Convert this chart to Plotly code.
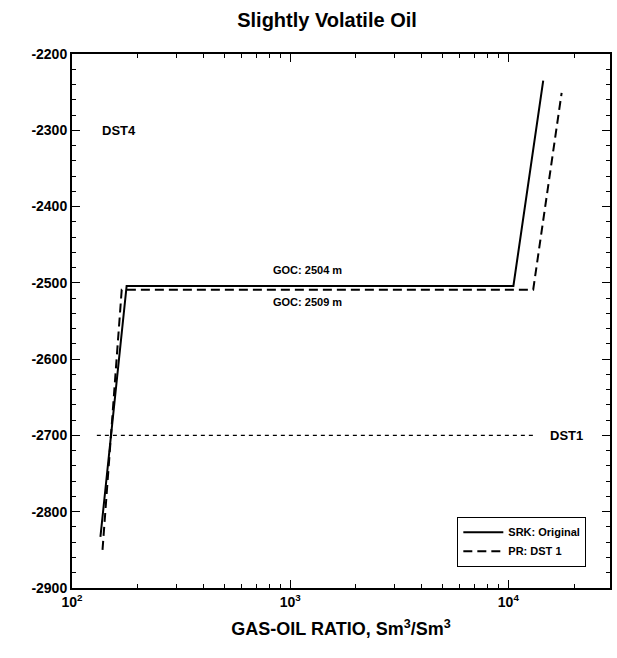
import math
import plotly.graph_objects as go

# Gas-oil ratio (Sm3/Sm3) versus depth (m) for the two EOS models
srk_gor = [135, 178, 10550, 14450]
srk_depth = [-2833, -2504, -2504, -2235]
pr_gor = [138, 169, 13000, 17550]
pr_depth = [-2850, -2509, -2509, -2251]

# DST1 reference depth
dst1_gor = [130, 13000]
dst1_depth = [-2700, -2700]

x_tick_vals = [100, 1000, 10000]
x_tick_text = ["<b>10<sup>2</sup></b>", "<b>10<sup>3</sup></b>", "<b>10<sup>4</sup></b>"]
y_tick_vals = [-2200, -2300, -2400, -2500, -2600, -2700, -2800, -2900]
y_tick_text = ["<b>-%d</b>" % abs(v) for v in y_tick_vals]

FONT = "Liberation Sans, Arial, sans-serif"
BOLD = dict(family=FONT, color="black", weight="bold")

fig = go.Figure()
fig.add_trace(go.Scatter(
    x=srk_gor, y=srk_depth, mode="lines", name="<b>SRK: Original</b>",
    line=dict(color="black", width=2),
))
fig.add_trace(go.Scatter(
    x=pr_gor, y=pr_depth, mode="lines", name="<b>PR: DST 1</b>",
    line=dict(color="black", width=2, dash="9px,5px"),
))
fig.add_trace(go.Scatter(
    x=dst1_gor, y=dst1_depth, mode="lines", showlegend=False,
    line=dict(color="black", width=1.3, dash="4px,4px"),
))

labels = [
    (1200, -2483, "GOC: 2504 m", 11),
    (1200, -2525, "GOC: 2509 m", 11),
    (165, -2300, "DST4", 13),
    (18400, -2700, "DST1", 13),
]
for lx, ly, txt, size in labels:
    fig.add_annotation(
        x=math.log10(lx), y=ly, text="<b>%s</b>" % txt, showarrow=False,
        font=dict(size=size, **BOLD), xanchor="center", yanchor="middle",
    )

axis_common = dict(
    showline=True, linecolor="black", linewidth=2, mirror="allticks",
    ticks="inside", tickcolor="black", tickwidth=1.3, ticklen=8,
    showgrid=False, zeroline=False,
    tickfont=dict(size=14, **BOLD),
)

fig.update_xaxes(
    type="log", range=[2, 4.466],
    tickmode="array", tickvals=x_tick_vals, ticktext=x_tick_text,
    minor=dict(ticks="inside", ticklen=4, tickcolor="black", tickwidth=1, dtick="D1"),
    title=dict(text="<b>GAS-OIL RATIO, Sm<sup>3</sup>/Sm<sup>3</sup></b>",
               font=dict(size=18, **BOLD), standoff=14),
    **axis_common,
)
fig.update_yaxes(
    range=[-2900, -2200],
    tickmode="array", tickvals=y_tick_vals, ticktext=y_tick_text,
    minor=dict(ticks="inside", ticklen=4, tickcolor="black", tickwidth=1, dtick=20),
    **axis_common,
)

fig.update_layout(
    width=617, height=658,
    margin=dict(l=72, r=5, t=54, b=70),
    paper_bgcolor="white", plot_bgcolor="white",
    title=dict(text="<b>Slightly Volatile Oil</b>", x=0.53, xanchor="center",
               y=1 - 20 / 658, yanchor="middle", yref="container",
               font=dict(size=20, **BOLD)),
    legend=dict(
        x=0.956, y=0.04, xanchor="right", yanchor="bottom",
        bordercolor="black", borderwidth=1, bgcolor="white",
        font=dict(size=11, **BOLD), itemwidth=40,
        tracegroupgap=0,
    ),
    showlegend=True,
)

fig.write_html("out.html")
